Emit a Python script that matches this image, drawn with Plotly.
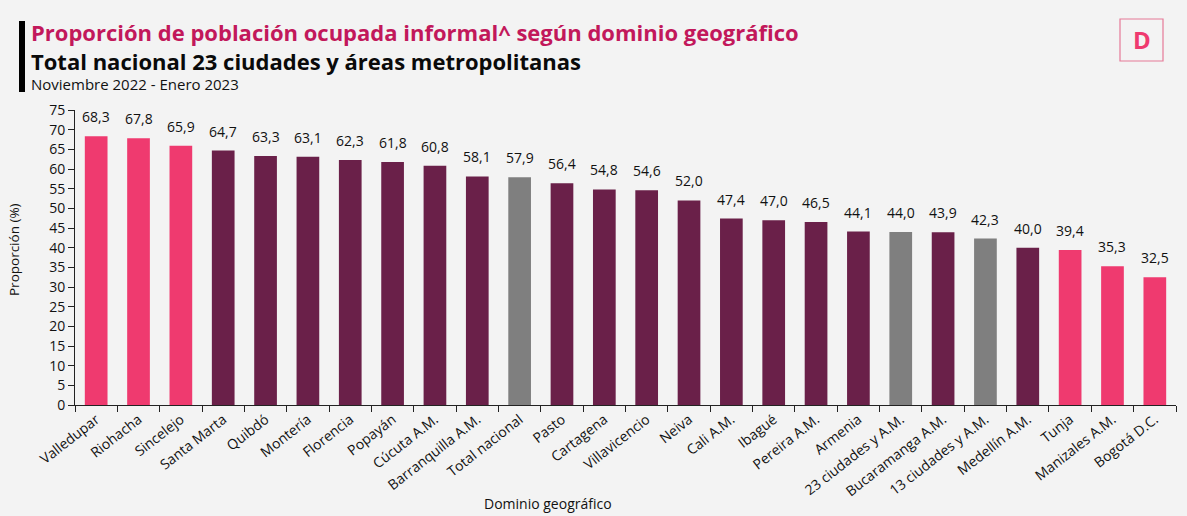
import plotly.graph_objects as go

categories = ["Valledupar", "Riohacha", "Sincelejo", "Santa Marta", "Quibdó", "Montería",
              "Florencia", "Popayán", "Cúcuta A.M.", "Barranquilla A.M.", "Total nacional",
              "Pasto", "Cartagena", "Villavicencio", "Neiva", "Cali A.M.", "Ibagué",
              "Pereira A.M.", "Armenia", "23 ciudades y A.M.", "Bucaramanga A.M.",
              "13 ciudades y A.M.", "Medellín A.M.", "Tunja", "Manizales A.M.", "Bogotá D.C."]
values = [68.3, 67.8, 65.9, 64.7, 63.3, 63.1, 62.3, 61.8, 60.8, 58.1, 57.9, 56.4, 54.8,
          54.6, 52.0, 47.4, 47.0, 46.5, 44.1, 44.0, 43.9, 42.3, 40.0, 39.4, 35.3, 32.5]
extremes = ["Valledupar", "Riohacha", "Sincelejo", "Tunja", "Manizales A.M.", "Bogotá D.C."]
aggregates = ["Total nacional", "23 ciudades y A.M.", "13 ciudades y A.M."]

PINK = "#EF3A6F"
PURPLE = "#6A2049"
GRAY = "#7F7F7F"
BG = "#F3F3F3"
colors = [PINK if c in extremes else GRAY if c in aggregates else PURPLE for c in categories]

FONT = "Open Sans"
W, H = 1187, 516
ML, MR, MT, MB = 75, 11, 110, 111

fig = go.Figure(go.Bar(
    x=categories, y=values, marker=dict(color=colors, line=dict(width=0)),
    hoverinfo="x+y",
))

fig.update_layout(
    width=W, height=H,
    paper_bgcolor=BG, plot_bgcolor="rgba(0,0,0,0)",
    separators=",.",
    margin=dict(l=ML, r=MR, t=MT, b=MB, autoexpand=False),
    bargap=0.464,
    showlegend=False,
    font=dict(family=FONT, color="#111111"),
    xaxis=dict(
        tickangle=-38, tickfont=dict(size=14, color="#111111"),
        showline=True, linecolor="#222222", linewidth=1,
        ticks="outside", ticklen=6, tickcolor="#222222", tickson="boundaries",
        showgrid=False, automargin=False,
    ),
    yaxis=dict(
        range=[0, 75], dtick=5, tickfont=dict(size=14, color="#111111"),
        showline=True, linecolor="#222222", linewidth=1,
        ticks="outside", ticklen=6, tickcolor="#222222",
        showgrid=False, zeroline=False, automargin=False,
    ),
)

# value labels above bars, positioned through the data axes
for c, v in zip(categories, values):
    fig.add_annotation(x=c, y=v, xref="x", yref="y", text=f"{v:.1f}".replace(".", ","),
                       showarrow=False, yanchor="bottom", yshift=8,
                       font=dict(family=FONT, size=14, color="#111111"))

pw = W - ML - MR
ph = H - MT - MB
def px(x):
    return (x - ML) / pw
def py(y):
    return (H - MB - y) / ph

def label(text, x, y, size, color, xanchor="left", yanchor="middle", angle=0, align="left"):
    fig.add_annotation(text=text, x=px(x), y=py(y), xref="paper", yref="paper",
                       xanchor=xanchor, yanchor=yanchor, showarrow=False, textangle=angle,
                       align=align, font=dict(family=FONT, size=size, color=color))

label("<b><span style='color:#C2185B'>Proporción de población ocupada informal^ según dominio geográfico</span>"
      "<br>Total nacional 23 ciudades y áreas metropolitanas</b>", 29, 46.5, 22, "#0A0A0A")
label("Noviembre 2022 - Enero 2023", 29, 84, 15, "#111111")
label("Dominio geográfico", 548, 503, 14, "#111111", xanchor="center")
label("Proporción (%)", 14, 250, 13.5, "#111111", xanchor="center", angle=-90)
label("<b>D</b>", 1142, 40, 24, "#EF3A6F", xanchor="center")

fig.add_shape(type="rect", xref="paper", yref="paper",
              x0=px(19), x1=px(25), y0=py(21), y1=py(92),
              fillcolor="#000000", line=dict(width=0))
fig.add_shape(type="rect", xref="paper", yref="paper",
              x0=px(1120), x1=px(1163), y0=py(19), y1=py(61),
              fillcolor="rgba(0,0,0,0)", line=dict(width=1.2, color="#E67A98"))

fig.write_html("out.html", config={"displayModeBar": False},
               post_script="document.body.style.margin='0';document.body.style.background='%s';" % BG)
